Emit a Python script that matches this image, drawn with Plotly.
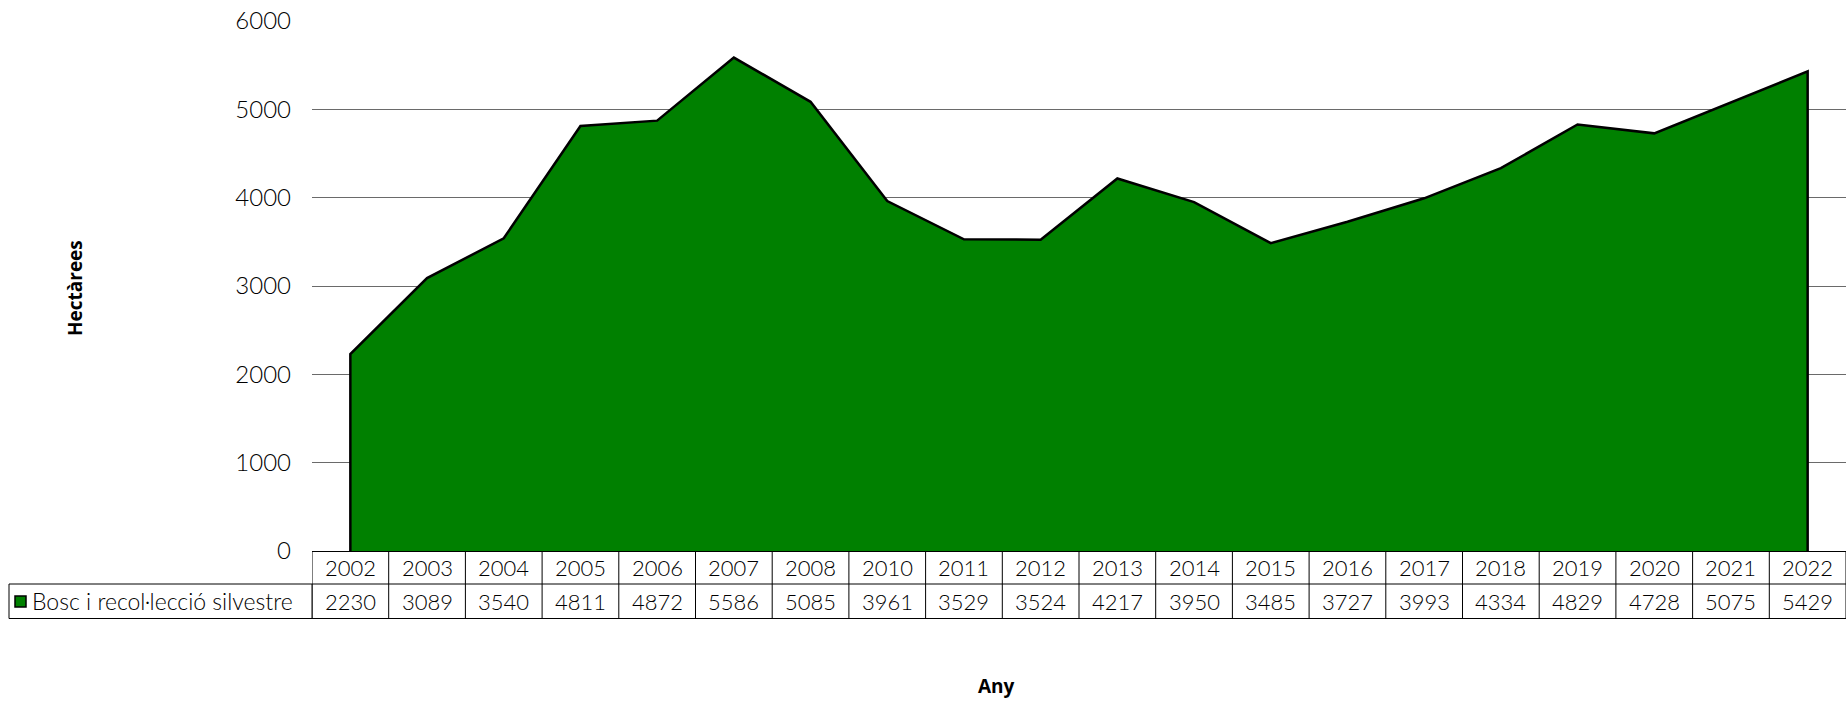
import plotly.graph_objects as go

years = ["2002", "2003", "2004", "2005", "2006", "2007", "2008", "2010", "2011", "2012",
         "2013", "2014", "2015", "2016", "2017", "2018", "2019", "2020", "2021", "2022"]
values = [2230, 3089, 3540, 4811, 4872, 5586, 5085, 3961, 3529, 3524,
          4217, 3950, 3485, 3727, 3993, 4334, 4829, 4728, 5075, 5429]
series_name = "Bosc i recol·lecció silvestre"
y_ticks = [0, 1000, 2000, 3000, 4000, 5000, 6000]
y_title = "Hectàrees"
x_title = "Any"

W, H = 1847, 701
ML, MR, MT, MB = 312, 1, 21, 150
PH = H - MT - MB
PW = W - ML - MR

def py(p):  # pixel y -> paper y
    return (H - MB - p) / PH

def px(p):  # pixel x -> paper x
    return (p - ML) / PW

GREEN = "#008000"
FONT = "Lato"
WT = 300

fig = go.Figure()
xs = [years[0]] + years + [years[-1]]
ys = [0] + values + [0]
fig.add_trace(go.Scatter(
    x=xs, y=ys, mode="lines", fill="toself", fillcolor=GREEN,
    line=dict(color="black", width=2.5), hoverinfo="skip", showlegend=False,
))

shapes = []
annotations = []
row_top, row_mid, row_bot = 551.5, 584, 618.5
line = dict(color="black", width=1)
for yy in (row_top, row_mid, row_bot):
    shapes.append(dict(type="line", xref="x", yref="paper", x0=-0.5, x1=len(years) - 0.5,
                       y0=py(yy), y1=py(yy), line=line))
for i in range(len(years) + 1):
    shapes.append(dict(type="line", xref="x", yref="paper", x0=i - 0.5, x1=i - 0.5,
                       y0=py(row_top), y1=py(row_bot), line=line))
shapes.append(dict(type="rect", xref="paper", yref="paper", x0=px(9), x1=0,
                   y0=py(row_mid), y1=py(row_bot), line=line))
shapes.append(dict(type="rect", xref="paper", yref="paper", x0=px(15), x1=px(26),
                   y0=py(596), y1=py(607), fillcolor=GREEN, line=dict(color="black", width=1.5)))
annotations.append(dict(xref="paper", yref="paper", x=px(30), y=py((row_mid + row_bot) / 2),
                        xanchor="left", yanchor="middle", showarrow=False, text=series_name,
                        font=dict(family=FONT, size=23, color="black", weight=WT)))
for i, (yr, v) in enumerate(zip(years, values)):
    annotations.append(dict(xref="x", yref="paper", x=i, y=py((row_top + row_mid) / 2),
                            xanchor="center", yanchor="middle", showarrow=False, text=yr,
                            font=dict(family=FONT, size=22, color="black", weight=WT)))
    annotations.append(dict(xref="x", yref="paper", x=i, y=py((row_mid + row_bot) / 2),
                            xanchor="center", yanchor="middle", showarrow=False, text=str(v),
                            font=dict(family=FONT, size=22, color="black", weight=WT)))
annotations.append(dict(xref="paper", yref="paper", x=px(996), y=py(686), xanchor="center",
                        yanchor="middle", showarrow=False, text="<b>" + x_title + "</b>",
                        font=dict(family="Open Sans", size=19, color="black")))
annotations.append(dict(xref="paper", yref="paper", x=px(75), y=py(288), xanchor="center",
                        yanchor="middle", showarrow=False, text="<b>" + y_title + "</b>",
                        textangle=-90, font=dict(family="Open Sans", size=19, color="black")))

fig.update_layout(
    width=W, height=H, margin=dict(l=ML, r=MR, t=MT, b=MB, pad=0),
    plot_bgcolor="white", paper_bgcolor="white",
    showlegend=False, shapes=shapes, annotations=annotations,
    xaxis=dict(type="category", categoryorder="array", categoryarray=years,
               range=[-0.5, len(years) - 0.5], showticklabels=False, showgrid=False,
               zeroline=False, showline=False, ticks=""),
    yaxis=dict(range=[0, 6000], tickvals=y_ticks, showgrid=True, gridcolor="#6a6a6a",
               gridwidth=1, zeroline=False, showline=False, ticks="",
               ticklabelstandoff=20, tickfont=dict(family=FONT, size=24, color="black", weight=WT)),
)
fig.write_html("out.html", post_script="document.body.style.margin='0';",
               config={"displayModeBar": False})
